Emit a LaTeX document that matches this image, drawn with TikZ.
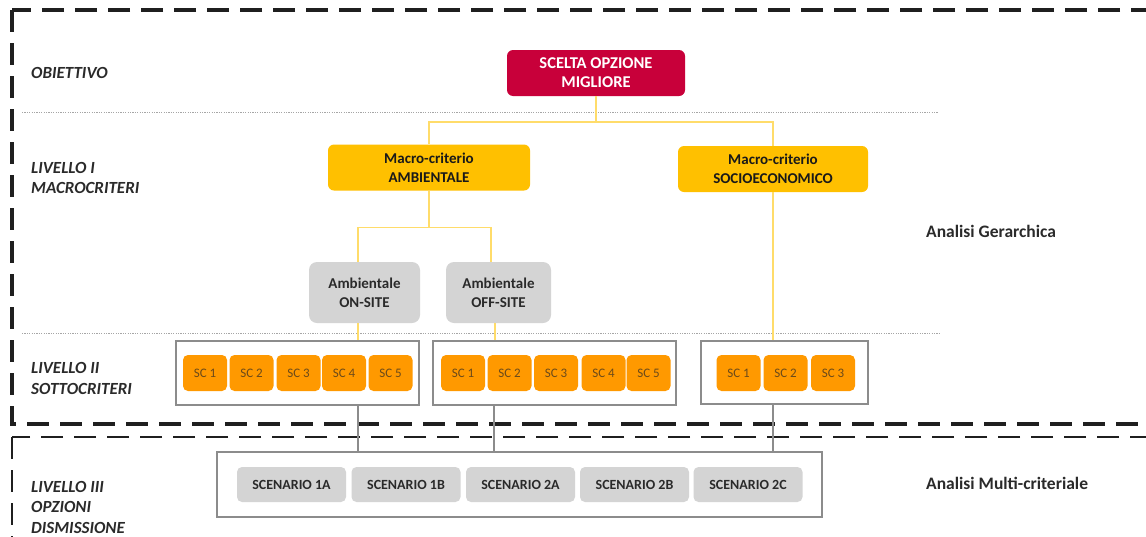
\documentclass[tikz,border=0pt]{standalone}
\usepackage{fontspec}
\setmainfont{Carlito}
\definecolor{crim}{HTML}{C8003A}
\definecolor{gold}{HTML}{FFC000}
\definecolor{orng}{HTML}{FF9900}
\definecolor{lgray}{HTML}{D4D4D4}
\definecolor{ylin}{HTML}{FFDC6A}
\definecolor{glin}{HTML}{8C8C8C}
\definecolor{txt}{HTML}{2A2A2A}
\definecolor{sctxt}{HTML}{6B4A1A}
\begin{document}
\begin{tikzpicture}[x=1pt,y=-1pt,
  outerdash/.style={draw=black!88,line width=3.2pt,dash pattern=on 22pt off 11pt},
  innerdash/.style={draw=black!88,line width=2.6pt,dash pattern=on 22pt off 11pt},
  sepline/.style={draw=black!35,line width=0.6pt,dash pattern=on 1.2pt off 1.2pt},
  lvl/.style={anchor=west,align=left,text=txt,font=\fontsize{17}{20.5}\selectfont\bfseries\itshape,inner sep=0},
  goalbox/.style={fill=crim,rounded corners=6pt,minimum width=178pt,minimum height=46pt,inner sep=0,align=center,text=white,font=\fontsize{16.5}{19}\selectfont\bfseries},
  macrobox/.style={fill=gold,rounded corners=6pt,minimum height=46pt,inner sep=0,align=center,text=black!90,font=\fontsize{15}{19}\selectfont\bfseries},
  subbox/.style={fill=lgray,rounded corners=8pt,minimum height=61pt,inner sep=0,align=center,text=txt,font=\fontsize{15}{19}\selectfont\bfseries},
  grpbox/.style={draw=glin,line width=2pt,fill=white,minimum height=64pt,inner sep=0},
  scbox/.style={fill=orng,rounded corners=5pt,minimum width=44pt,minimum height=36pt,inner sep=0,text=sctxt,font=\fontsize{13}{14}\selectfont},
  scenbox/.style={fill=lgray,rounded corners=5pt,minimum width=109pt,minimum height=35pt,inner sep=0,text=txt,font=\fontsize{14}{16}\selectfont\bfseries},
  ycon/.style={draw=ylin,line width=1.5pt},
  gcon/.style={draw=glin,line width=1.4pt},
  rlab/.style={anchor=west,inner sep=0,text=txt,font=\fontsize{17.5}{20}\selectfont\bfseries}
]
\useasboundingbox (0,0) rectangle (1146,536);
\fill[white] (0,0) rectangle (1146,536);

% dashed frames
\draw[outerdash] (12,10) rectangle (1175,424);
\draw[innerdash] (12,437) rectangle (1175,570);

% dotted separators
\draw[sepline] (22,112) -- (938,112);
\draw[sepline] (22,333) -- (940,333);

% level labels
\node[lvl] (l0) at (31,73) {OBIETTIVO};
\node[lvl] (l1) at (31,178) {LIVELLO I\\MACROCRITERI};
\node[lvl] (l2) at (31,378.5) {LIVELLO II\\SOTTOCRITERI};
\node[lvl] (l3) at (31,507) {LIVELLO III\\OPZIONI\\DISMISSIONE};

% right labels
\node[rlab] (rg) at (926,231) {Analisi Gerarchica};
\node[rlab] (rm) at (926,483) {Analisi Multi-criteriale};

% main nodes
\node[goalbox] (goal) at (596,73) {SCELTA OPZIONE\\MIGLIORE};
\node[macrobox,minimum width=202pt] (amb) at (429,167.5) {Macro-criterio\\AMBIENTALE};
\node[macrobox,minimum width=190pt] (soc) at (773,169) {Macro-criterio\\SOCIOECONOMICO};
\node[subbox,minimum width=111pt] (on) at (364.5,292.5) {Ambientale\\ON-SITE};
\node[subbox,minimum width=105pt] (off) at (498.5,292.5) {Ambientale\\OFF-SITE};

% connectors (yellow)
\draw[ycon] (goal.south) -- ++(0,26) -| (amb.north);
\draw[ycon] (goal.south) -- ++(0,26) -| (soc.north);
\draw[ycon] (amb.south) -- ++(0,37) -| ([xshift=-6.5pt]on.north);
\draw[ycon] (amb.south) -- ++(0,37) -| ([xshift=-7.5pt]off.north);

% group boxes
\node[grpbox,minimum width=243pt] (g1) at (297.5,373) {};
\node[grpbox,minimum width=243pt] (g2) at (554.5,373) {};
\node[grpbox,minimum width=167pt,minimum height=63pt] (g3) at (784.5,372.5) {};

\draw[ycon] ([xshift=-6.5pt]on.south) -- ([xshift=-6.5pt]on.south |- g1.north);
\draw[ycon] ([xshift=-3.5pt]off.south) -- ([xshift=-3.5pt]off.south |- g2.north);
\draw[ycon] (soc.south) -- (soc.south |- g3.north);

% SC boxes
\node[scbox] (a1) at (205,373) {SC 1};
\node[scbox] (a2) at (251.5,373) {SC 2};
\node[scbox] (a3) at (298.5,373) {SC 3};
\node[scbox] (a4) at (344,373) {SC 4};
\node[scbox] (a5) at (390.5,373) {SC 5};
\node[scbox] (b1) at (463,373) {SC 1};
\node[scbox] (b2) at (509.5,373) {SC 2};
\node[scbox] (b3) at (556,373) {SC 3};
\node[scbox] (b4) at (603.5,373) {SC 4};
\node[scbox] (b5) at (648.5,373) {SC 5};
\node[scbox] (c1) at (738.5,373) {SC 1};
\node[scbox] (c2) at (785.5,373) {SC 2};
\node[scbox] (c3) at (833,373) {SC 3};

% scenario box
\node[grpbox,minimum width=605pt,minimum height=65pt] (scen) at (519.5,484.5) {};
\draw[gcon] ([xshift=-6.5pt]on.south |- g1.south) -- ([xshift=-6.5pt]on.south |- scen.north);
\draw[gcon] ([xshift=-4.5pt]off.south |- g2.south) -- ([xshift=-4.5pt]off.south |- scen.north);
\draw[gcon] (soc.south |- g3.south) -- (soc.south |- scen.north);

\node[scenbox] (s1) at (291.5,484.5) {SCENARIO 1A};
\node[scenbox] (s2) at (406,484.5) {SCENARIO 1B};
\node[scenbox] (s3) at (520.5,484.5) {SCENARIO 2A};
\node[scenbox] (s4) at (634.5,484.5) {SCENARIO 2B};
\node[scenbox] (s5) at (748,484.5) {SCENARIO 2C};
\end{tikzpicture}
\end{document}
